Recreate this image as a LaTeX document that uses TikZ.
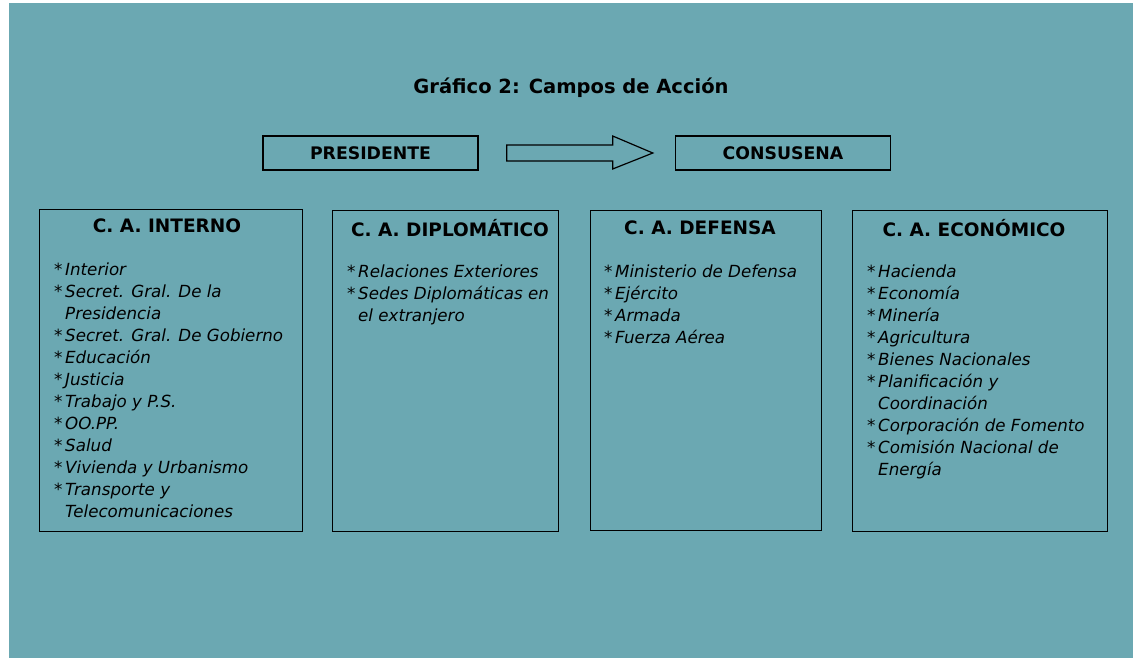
\documentclass[tikz,border=0pt]{standalone}
\usepackage{fontspec}
\setmainfont{DejaVu Sans}
\usetikzlibrary{calc}
\definecolor{bgteal}{RGB}{107,168,178}
\newcommand{\itm}[1]{\makebox[11pt][l]{*}#1}
\newcommand{\cnt}[1]{\hspace*{11pt}#1}
\tikzset{
  frame/.style={draw=black, line width=1.4pt, inner sep=0pt, anchor=north west},
  topbox/.style={draw=black, line width=1.4pt, minimum width=215pt, minimum height=34pt, inner sep=0pt, font=\fontsize{17.3}{20}\selectfont\bfseries},
  head/.style={font=\fontsize{18.5}{21}\selectfont\bfseries, inner sep=0pt},
  items/.style={font=\fontsize{16.7}{22}\selectfont\itshape, align=left, inner sep=0pt, anchor=north west},
  title/.style={font=\fontsize{19.5}{22}\selectfont\bfseries, inner sep=0pt},
  blockarrow/.style={draw=black, line width=1.2pt, line join=miter}
}
\begin{document}
\begin{tikzpicture}[x=1pt, y=-1pt]
\useasboundingbox (0,0) rectangle (1133,658);
\fill[bgteal] (9,3) rectangle (1133,658);

\node[title] (title) at (571,88) {Gráfico 2: Campos de Acción};

\node[topbox] (pres) at (370.5,153) {PRESIDENTE};
\node[topbox] (cons) at (783,153) {CONSUSENA};
\coordinate (a0) at ($(pres.east)+(28,0)$);
\coordinate (a2) at ($(cons.west)+(-22,0)$);
\draw[blockarrow] ($(a0)+(0,-8)$) -- ($(a0)+(106,-8)$) -- ($(a0)+(106,-17)$) -- (a2)
  -- ($(a0)+(106,16)$) -- ($(a0)+(106,8)$) -- ($(a0)+(0,8)$) -- cycle;

% boxes
\node[frame, minimum width=263pt, minimum height=322pt] (int) at (39,209) {};
\node[frame, minimum width=226pt, minimum height=321pt] (dip) at (332,210) {};
\node[frame, minimum width=231pt, minimum height=320pt] (def) at (590,210) {};
\node[frame, minimum width=255pt, minimum height=321pt] (eco) at (852,210) {};

\node[head] (hint) at (167,226) {C. A. INTERNO};
\node[head] (hdip) at (450,228) {C. A. DIPLOMÁTICO};
\node[head] (hdef) at (700,228) {C. A. DEFENSA};
\node[head] (heco) at (974,228) {C. A. ECONÓMICO};

\node[items] (lint) at (54,263) {%
\itm{Interior}\\
\itm{Secret. Gral. De la}\\
\cnt{Presidencia}\\
\itm{Secret. Gral. De Gobierno}\\
\itm{Educación}\\
\itm{Justicia}\\
\itm{Trabajo y P.S.}\\
\itm{OO.PP.}\\
\itm{Salud}\\
\itm{Vivienda y Urbanismo}\\
\itm{Transporte y}\\
\cnt{Telecomunicaciones}};

\node[items] (ldip) at (347,265) {%
\itm{Relaciones Exteriores}\\
\itm{Sedes Diplomáticas en}\\
\cnt{el extranjero}};

\node[items] (ldef) at (604,265) {%
\itm{Ministerio de Defensa}\\
\itm{Ejército}\\
\itm{Armada}\\
\itm{Fuerza Aérea}};

\node[items] (leco) at (867,265) {%
\itm{Hacienda}\\
\itm{Economía}\\
\itm{Minería}\\
\itm{Agricultura}\\
\itm{Bienes Nacionales}\\
\itm{Planificación y}\\
\cnt{Coordinación}\\
\itm{Corporación de Fomento}\\
\itm{Comisión Nacional de}\\
\cnt{Energía}};
\end{tikzpicture}
\end{document}
